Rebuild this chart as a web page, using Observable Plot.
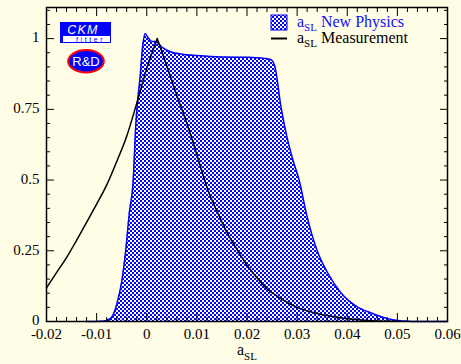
<!DOCTYPE html>
<html><head><meta charset="utf-8">
<script src="https://cdn.jsdelivr.net/npm/d3@7"></script>
<script src="https://cdn.jsdelivr.net/npm/@observablehq/plot@0.6"></script>
<style>
body{margin:0;background:#fffde6;}
#wrap{width:461px;height:364px;}
</style></head><body><div id="wrap"></div>
<script>
// a_SL New Physics (blue hatched area)
const npX = [-0.012,-0.009,-0.008,-0.007,-0.006,-0.005,-0.0042,-0.0035,-0.0027,-0.0022,-0.0013,-0.0008,-0.0003,0.0002,0.001,0.0018,0.003,0.005,0.007,0.01,0.015,0.02,0.0235,0.0247,0.0255,0.0268,0.028,0.0291,0.0304,0.032,0.034,0.036,0.0388,0.042,0.0448,0.0481,0.051,0.055,0.06];
const npY = [0,0.001,0.004,0.015,0.06,0.14,0.25,0.38,0.5,0.69,0.87,0.975,1.017,1.005,0.99,0.99,0.97,0.952,0.945,0.94,0.935,0.934,0.93,0.926,0.905,0.757,0.65,0.575,0.5,0.37,0.25,0.175,0.1,0.052,0.03,0.01,0.002,0,0];
// a_SL Measurement (black line), left and right of the peak
const msLeftX = [-0.02,-0.018,-0.016,-0.014,-0.012,-0.01,-0.008,-0.006,-0.004,-0.002,0,0.0021];
const msLeftY = [0.119,0.173,0.226,0.287,0.35,0.415,0.482,0.565,0.655,0.771,0.894,1.0];
const msRightX = [0.0021,0.004,0.006,0.008,0.01,0.012,0.014,0.016,0.018,0.02,0.022,0.024,0.026,0.028,0.03,0.033,0.036,0.04,0.045,0.05];
const msRightY = [1.0,0.904,0.80,0.70,0.59,0.475,0.39,0.315,0.255,0.199,0.155,0.115,0.09,0.068,0.05,0.033,0.021,0.01,0.003,0.0005];
// ticks
const xMajor = [-0.02,-0.01,0,0.01,0.02,0.03,0.04,0.05,0.06];
const xLabels = ["-0.02","-0.01","0","0.01","0.02","0.03","0.04","0.05","0.06"];
const yMajor = [0,0.25,0.5,0.75,1];
const yLabels = ["0","0.25","0.5","0.75","1"];
const xMinor = d3.range(0,41).map(i => -0.02 + i*0.002).filter((v,i) => i % 5 !== 0);
const yMinor = d3.range(0,23).map(i => i*0.05).filter((v,i) => i % 5 !== 0);

const np = npX.map((x,i) => ({x, y: npY[i]}));
const ms = msLeftX.map((x,i) => ({x, y: msLeftY[i], side: "L"}))
  .concat(msRightX.map((x,i) => ({x, y: msRightY[i], side: "R"})));

const xl = new Map(xMajor.map((v,i) => [v, xLabels[i]]));
const yl = new Map(yMajor.map((v,i) => [v, yLabels[i]]));

const plot = Plot.plot({
  width: 461, height: 364,
  marginLeft: 46, marginRight: 14, marginTop: 7, marginBottom: 43,
  style: {fontFamily: "Liberation Serif", fontSize: "15px", background: "#fffde6", color: "black"},
  x: {domain: [-0.02, 0.06]},
  y: {domain: [0, 1.11]},
  marks: [
    Plot.areaY(np, {x: "x", y: "y", fill: "url(#chk)", curve: "monotone-x"}),
    Plot.line(np, {x: "x", y: "y", stroke: "#0000ff", strokeWidth: 1.5, curve: "monotone-x"}),
    Plot.line(ms, {x: "x", y: "y", z: "side", stroke: "black", strokeWidth: 1.5, curve: "monotone-x"}),
    Plot.frame({stroke: "black", strokeWidth: 1.5}),
    Plot.axisX(xMajor, {anchor: "bottom", tickSize: -8, text: null, label: null}),
    Plot.axisX(xMajor, {anchor: "top", tickSize: -8, text: null, label: null}),
    Plot.axisX(xMinor, {anchor: "bottom", tickSize: -4, text: null, label: null}),
    Plot.axisX(xMinor, {anchor: "top", tickSize: -4, text: null, label: null}),
    Plot.axisY(yMajor, {anchor: "left", tickSize: -8, text: null, label: null}),
    Plot.axisY(yMajor, {anchor: "right", tickSize: -8, text: null, label: null}),
    Plot.axisY(yMinor, {anchor: "left", tickSize: -4, text: null, label: null}),
    Plot.axisY(yMinor, {anchor: "right", tickSize: -4, text: null, label: null}),
    Plot.axisX(xMajor, {anchor: "bottom", tickSize: 0, tickPadding: 7, tickFormat: d => xl.get(d), label: null}),
    Plot.axisY(yMajor, {anchor: "left", tickSize: 0, tickPadding: 7, dy: -1, tickFormat: d => yl.get(d), label: null})
  ]
});

const svg = d3.select(plot);
const defs = svg.insert("defs", ":first-child");
const pat = defs.append("pattern").attr("id", "chk").attr("patternUnits", "userSpaceOnUse")
  .attr("width", 4).attr("height", 4);
pat.append("rect").attr("width", 4).attr("height", 4).attr("fill", "white");
pat.append("rect").attr("width", 2).attr("height", 2).attr("fill", "#0000ff");
pat.append("rect").attr("x", 2).attr("y", 2).attr("width", 2).attr("height", 2).attr("fill", "#0000ff");
pat.selectAll("rect").attr("shape-rendering", "crispEdges");

// x axis label a_SL
const xt = svg.append("text").attr("x", 237).attr("y", 355).attr("text-anchor", "start")
  .attr("font-family", "Liberation Serif").attr("font-size", 16).attr("fill", "black");
xt.append("tspan").text("a");
xt.append("tspan").attr("font-size", 11).attr("dy", 5).text("SL");

// legend
const lg = svg.append("g").attr("font-family", "Liberation Serif").attr("text-anchor", "start");
lg.append("rect").attr("x", 271).attr("y", 15).attr("width", 16).attr("height", 15)
  .attr("fill", "url(#chk)").attr("stroke", "#0000ff").attr("stroke-width", 1);
const t1 = lg.append("text").attr("x", 297).attr("y", 27).attr("font-size", 16).attr("fill", "#1010ff");
t1.append("tspan").text("a");
t1.append("tspan").attr("font-size", 11).attr("dy", 4).text("SL");
t1.append("tspan").attr("dy", -4).text(" New Physics");
lg.append("line").attr("x1", 271).attr("x2", 287).attr("y1", 38.5).attr("y2", 38.5)
  .attr("stroke", "black").attr("stroke-width", 2);
const t2 = lg.append("text").attr("x", 297).attr("y", 43).attr("font-size", 16).attr("fill", "black");
t2.append("tspan").text("a");
t2.append("tspan").attr("font-size", 11).attr("dy", 4).text("SL");
t2.append("tspan").attr("dy", -4).text(" Measurement");

// CKMfitter logo
const lo = svg.append("g").attr("font-family", "Liberation Sans").attr("text-anchor", "start");
lo.append("rect").attr("x", 60).attr("y", 22).attr("width", 51).attr("height", 21).attr("fill", "#0000ff");
lo.append("rect").attr("x", 63).attr("y", 36).attr("width", 47).attr("height", 6).attr("fill", "white");
lo.append("text").attr("x", 83).attr("y", 33.5).attr("text-anchor", "middle").attr("font-size", 12.5)
  .attr("font-style", "italic").attr("fill", "white").attr("letter-spacing", 1.2).text("CKM");
lo.append("text").attr("x", 76).attr("y", 41.5).attr("font-size", 7).attr("fill", "#0000ff")
  .attr("letter-spacing", 2.6).text("fitter");
lo.append("ellipse").attr("cx", 86).attr("cy", 61.3).attr("rx", 17.8).attr("ry", 11.2)
  .attr("fill", "#0000ff").attr("stroke", "#ff0000").attr("stroke-width", 2);
lo.append("text").attr("x", 86).attr("y", 66).attr("text-anchor", "middle").attr("font-size", 13)
  .attr("fill", "white").text("R&D");

document.getElementById("wrap").append(plot);
</script></body></html>
